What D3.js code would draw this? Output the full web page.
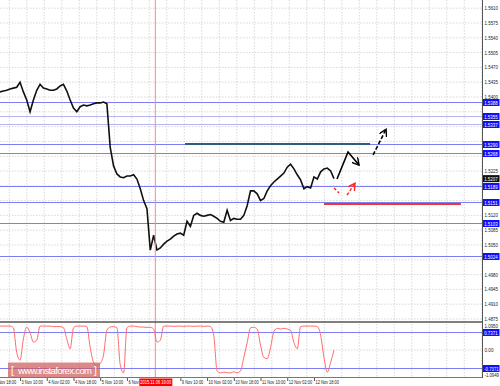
<!DOCTYPE html>
<html>
<head>
<meta charset="utf-8">
<script src="https://cdn.jsdelivr.net/npm/d3@7"></script>
<style>
  body { margin: 0; background: #fff; }
  text { font-family: "Liberation Sans", Arial, sans-serif; }
</style>
</head>
<body>
<div id="chart"></div>
<script>
// hourly bars are grouped by two hours, index 0 = 2 Nov 22:00
var closes = [
  1.5412, 1.5414, 1.5416, 1.5419, 1.5421, 1.5423, 1.5435, 1.5412, 1.5393, 1.5365,
  1.5393, 1.5416, 1.5430, 1.5421, 1.5419, 1.5416, 1.5416, 1.5419, 1.5426, 1.5430,
  1.5414, 1.5393, 1.5374, 1.5365, 1.5377, 1.5381, 1.5379, 1.5381, 1.5384, 1.5386,
  1.5386, 1.5388, 1.5384, 1.5281, 1.5237, 1.5218, 1.5211, 1.5209, 1.5213, 1.5213,
  1.5216, 1.5206, 1.5183, 1.5155, 1.5136, 1.5038, 1.5073, 1.5038, 1.5043, 1.5052,
  1.5059, 1.5064, 1.5071, 1.5076, 1.5078, 1.5073, 1.5106, 1.5094, 1.5120, 1.5125,
  1.5120, 1.5118, 1.5120, 1.5122, 1.5118, 1.5113, 1.5106, 1.5104, 1.5132, 1.5108,
  1.5113, 1.5111, 1.5111, 1.5120, 1.5143, 1.5178, 1.5178, 1.5171, 1.5155, 1.5160,
  1.5178, 1.5190, 1.5199, 1.5206, 1.5213, 1.5220, 1.5234, 1.5241, 1.5230, 1.5216,
  1.5204, 1.5183, 1.5188, 1.5185, 1.5211, 1.5206, 1.5223, 1.5230, 1.5232, 1.5225,
  1.5207
];

var oscillator = [
  0.97, 0.97, 0.97, 0.97, 0.90, -0.10, -0.41, 0.45, 0.93, 0.70,
  0.32, 0.40, 0.97, 0.97, 0.97, 0.97, 0.95, 0.95, 0.95, 0.90,
  0.45, 0.05, 0.90, 0.97, 0.97, 0.97, 0.95, 0.10, -0.50, -0.65,
  -0.55, -0.20, 0.80, 0.93, 0.95, 0.90, -0.60, -0.93, 0.90, 0.97,
  0.97, 0.95, 0.93, 0.93, 0.92, 0.92, 0.85, 0.32, 0.40, 0.97,
  0.97, 0.97, 0.96, 0.97, 0.97, 0.96, 0.97, 0.97, 0.96, 0.97,
  0.97, 0.96, 0.97, 0.95, 0.60, -0.85, -0.93, -0.90, -0.92, -0.93,
  -0.88, -0.93, -0.85, -0.30, 0.30, 0.90, 0.92, 0.85, 0.20, -0.30,
  -0.35, 0.10, 0.75, 0.88, 0.85, 0.88, 0.85, 0.80, 0.30, 0.05,
  0.95, 0.97, 0.97, 0.97, 0.97, 0.95, 0.60, -0.30, -0.90, -0.50,
  0.00
];

var levels = [1.5388, 1.5355, 1.5337, 1.5290, 1.5268, 1.5189, 1.5151, 1.5103, 1.5024];
var faintLevels = [1.5355, 1.5337];
var oscLevels = [0.7371, -0.7371];

var priceTicks = [1.5610, 1.5575, 1.5540, 1.5505, 1.5470, 1.5435, 1.5400, 1.5365, 1.5330,
  1.5295, 1.5260, 1.5225, 1.5190, 1.5155, 1.5120, 1.5085, 1.5050, 1.5015, 1.4980,
  1.4945, 1.4910, 1.4875];
var oscTicks = [1.0950, 0.00, -1.0949];
var oscTickText = ["1.0950", "0.00", "-1.0949"];

// 6 Nov 18:00 sits under the cursor label
var timeTickIdx = [-2, 6, 14, 22, 30, 38, 54, 62, 70, 78, 86, 94];
var timeTickLabels = ["2 Nov 18:00", "3 Nov 10:00", "4 Nov 02:00", "4 Nov 18:00", "5 Nov 10:00",
  "6 Nov 02:00", "9 Nov 10:00", "10 Nov 02:00", "10 Nov 18:00",
  "11 Nov 10:00", "12 Nov 02:00", "12 Nov 18:00"];

var cursorIdx = 46.5, cursorLabel = "2015.11.06 19:00";

// drawn analysis: [index, price] points
var resistanceLine = [[55.4, 1.5289], [110.8, 1.5289]];
var supportLine = [[97, 1.5147], [138, 1.5147]];
var bullPath = [[100.9, 1.5206], [104.2, 1.5270], [107.5, 1.5239]];
var bullNext = [[111.7, 1.5263], [115.6, 1.5324]];
var bearTick = [[100, 1.5185], [101.5, 1.5173]];
var bearNext = [[103.9, 1.5168], [106.3, 1.5196]];

var width = 500, height = 386, plotRight = 482;

var x = d3.scaleLinear().domain([0, 100]).range([0, 334]);
var yP = d3.scaleLinear().domain([1.4875, 1.5610]).range([319, 8.2]);
var yI = d3.scaleLinear().domain([-1.0949, 1.0950]).range([377, 323]);

var svg = d3.select("#chart").append("svg")
    .attr("width", width)
    .attr("height", height);

var defs = svg.append("defs");
defs.append("clipPath").attr("id", "pclip")
    .append("rect").attr("x", 0).attr("y", 0).attr("width", plotRight).attr("height", 322);
defs.append("clipPath").attr("id", "iclip")
    .append("rect").attr("x", 0).attr("y", 323).attr("width", plotRight).attr("height", 54);

var cx = x(cursorIdx);
var tclip = defs.append("clipPath").attr("id", "tclip");
tclip.append("rect").attr("x", 0).attr("y", 377).attr("width", cx - 16).attr("height", 9);
tclip.append("rect").attr("x", cx + 17).attr("y", 377).attr("width", plotRight - cx - 17).attr("height", 9);

function marker(id, color) {
    defs.append("marker")
        .attr("id", id)
        .attr("viewBox", "0 0 8 8")
        .attr("refX", 7).attr("refY", 4)
        .attr("markerWidth", 8).attr("markerHeight", 8)
        .attr("markerUnits", "userSpaceOnUse")
        .attr("orient", "auto")
        .append("path")
        .attr("d", "M0,0 L7,4 L0,8")
        .attr("fill", "none")
        .attr("stroke", color)
        .attr("stroke-width", 1.4);
}
marker("headBlack", "#000");
marker("headRed", "#f22");

// grid
var gridX = d3.range(9.3, plotRight, 17.5);
var grid = svg.append("g")
    .attr("stroke", "#c9c9c9")
    .attr("stroke-dasharray", "1.5,1.5")
    .attr("stroke-width", 0.7);
grid.selectAll(".gx").data(gridX).join("line")
    .attr("x1", d => d).attr("x2", d => d)
    .attr("y1", 0).attr("y2", 377);
grid.selectAll(".gy").data(priceTicks).join("line")
    .attr("x1", 0).attr("x2", plotRight)
    .attr("y1", d => yP(d)).attr("y2", d => yP(d));
grid.append("line")
    .attr("x1", 0).attr("x2", plotRight)
    .attr("y1", yI(0)).attr("y2", yI(0));

// levels
var price = svg.append("g").attr("clip-path", "url(#pclip)");
price.selectAll(".lvl").data(levels).join("line")
    .attr("x1", 0).attr("x2", plotRight)
    .attr("y1", d => Math.round(yP(d)) + 0.5).attr("y2", d => Math.round(yP(d)) + 0.5)
    .attr("stroke", d => faintLevels.indexOf(d) >= 0 ? "#b4b4f6" : "#7d7df4")
    .attr("stroke-width", 1);

// cursor line
svg.append("line")
    .attr("x1", cx).attr("x2", cx)
    .attr("y1", 0).attr("y2", 377)
    .attr("stroke", "#f88")
    .attr("stroke-width", 1);

// price series
var line = d3.line().x((d, i) => x(i)).y(d => yP(d));
price.append("path")
    .datum(closes)
    .attr("d", line)
    .attr("fill", "none")
    .attr("stroke", "#111")
    .attr("stroke-width", 1.6)
    .attr("stroke-linejoin", "miter");

// analysis drawings
var pl = d3.line().x(d => x(d[0])).y(d => yP(d[1]));
price.append("path").datum(resistanceLine).attr("d", pl)
    .attr("stroke", "#2c5d7e").attr("stroke-width", 2).attr("fill", "none");
price.append("path").datum(supportLine).attr("d", pl)
    .attr("stroke", "#f03535").attr("stroke-width", 2).attr("fill", "none");
price.append("path").datum(bullPath).attr("d", pl)
    .attr("stroke", "#000").attr("stroke-width", 1.6).attr("fill", "none")
    .attr("marker-end", "url(#headBlack)");
price.append("path").datum(bullNext).attr("d", pl)
    .attr("stroke", "#000").attr("stroke-width", 1.6).attr("fill", "none")
    .attr("stroke-dasharray", "4,2")
    .attr("marker-end", "url(#headBlack)");
price.append("path").datum(bearTick).attr("d", pl)
    .attr("stroke", "#f22").attr("stroke-width", 1.4).attr("fill", "none")
    .attr("stroke-dasharray", "3,2");
price.append("path").datum(bearNext).attr("d", pl)
    .attr("stroke", "#f22").attr("stroke-width", 1.4).attr("fill", "none")
    .attr("stroke-dasharray", "3,2")
    .attr("marker-end", "url(#headRed)");

// oscillator
var ind = svg.append("g").attr("clip-path", "url(#iclip)");
ind.selectAll(".ol").data(oscLevels).join("line")
    .attr("x1", 0).attr("x2", plotRight)
    .attr("y1", d => Math.round(yI(d)) + 0.5).attr("y2", d => Math.round(yI(d)) + 0.5)
    .attr("stroke", "#7d7df4");
ind.append("path")
    .datum(oscillator)
    .attr("d", d3.line().x((d, i) => x(i)).y(d => yI(d)).curve(d3.curveMonotoneX))
    .attr("fill", "none")
    .attr("stroke", "#ff6b6b")
    .attr("stroke-width", 1);

// frames
svg.append("line").attr("x1", 0).attr("x2", plotRight).attr("y1", 322).attr("y2", 322)
    .attr("stroke", "#555").attr("stroke-width", 1.6);
svg.append("line").attr("x1", 0).attr("x2", plotRight).attr("y1", 377.5).attr("y2", 377.5)
    .attr("stroke", "#777").attr("stroke-width", 1);
svg.append("line").attr("x1", plotRight + 0.5).attr("x2", plotRight + 0.5).attr("y1", 0).attr("y2", 378)
    .attr("stroke", "#555").attr("stroke-width", 1);

// right axis labels, the ones under a level box are hidden like in the terminal
var boxY = levels.map(d => yP(d)).concat([yP(closes[closes.length - 1])]);
var axis = svg.append("g").attr("font-size", 5.2).attr("fill", "#222");
axis.selectAll(".pt").data(priceTicks.filter(t => boxY.every(b => Math.abs(b - yP(t)) > 5))).join("text")
    .attr("x", 484.5).attr("y", d => yP(d) + 2)
    .attr("textLength", 13.5).attr("lengthAdjust", "spacingAndGlyphs")
    .text(d => d.toFixed(4));
axis.selectAll(".ot").data(oscTicks).join("text")
    .attr("x", 484.5).attr("y", d => yI(d) + (d > 0 ? 4.5 : d < 0 ? -0.5 : 2))
    .attr("font-size", (d, i) => oscTickText[i].length > 6 ? 4.8 : 5.2)
    .attr("textLength", (d, i) => oscTickText[i].length > 6 ? 14.5 : oscTickText[i].length * 2.25)
    .attr("lengthAdjust", "spacingAndGlyphs")
    .text((d, i) => oscTickText[i]);

function box(v, y, fill) {
    var g = svg.append("g");
    var narrow = v.length > 6;
    g.append("rect").attr("x", 483).attr("y", y - 3.5).attr("width", 16.5).attr("height", 7).attr("fill", fill);
    g.append("text").attr("x", 484.2).attr("y", y + 2)
        .attr("font-size", narrow ? 4.8 : 5.2).attr("fill", "#fff")
        .attr("textLength", narrow ? 14.5 : v.length * 2.25)
        .attr("lengthAdjust", "spacingAndGlyphs").text(v);
}
levels.forEach(function(d) { box(d.toFixed(4), Math.round(yP(d)) + 0.5, "#1010ff"); });
oscLevels.forEach(function(d) { box(d.toFixed(4), Math.round(yI(d)) + 0.5, "#1010ff"); });
box(closes[closes.length - 1].toFixed(4), yP(closes[closes.length - 1]), "#111");

// time axis
var tg = svg.append("g").attr("font-size", 4.6).attr("fill", "#222").attr("clip-path", "url(#tclip)");
tg.selectAll(".tt").data(timeTickIdx).join("text")
    .attr("x", d => x(d) + 1.5).attr("y", 384)
    .attr("textLength", (d, i) => timeTickLabels[i].length * 1.95)
    .attr("lengthAdjust", "spacingAndGlyphs")
    .text((d, i) => timeTickLabels[i]);
tg.selectAll(".tm").data(timeTickIdx).join("line")
    .attr("x1", d => x(d) + 0.5).attr("x2", d => x(d) + 0.5)
    .attr("y1", 378).attr("y2", 381)
    .attr("stroke", "#555");

svg.append("rect").attr("x", cx - 16).attr("y", 378.5).attr("width", 33).attr("height", 7.5).attr("fill", "#f00");
svg.append("text").attr("x", cx - 15).attr("y", 384.3).attr("font-size", 5.2).attr("fill", "#fff")
    .attr("textLength", 31).attr("lengthAdjust", "spacingAndGlyphs").text(cursorLabel);

// watermark
var wm = svg.append("g");
wm.append("rect").attr("x", 8).attr("y", 362.5).attr("width", 92).attr("height", 14.5)
    .attr("fill", "#cf5c5c").attr("opacity", 0.72);
wm.append("text").attr("x", 11).attr("y", 373.5).attr("font-size", 10).attr("fill", "#fff").text("[");
wm.append("text").attr("x", 18).attr("y", 373.5).attr("font-size", 9.5).attr("fill", "#fff")
    .attr("textLength", 74).text("www.instaforex.com");
wm.append("text").attr("x", 94).attr("y", 373.5).attr("font-size", 10).attr("fill", "#fff").text("]");
</script>
</body>
</html>
